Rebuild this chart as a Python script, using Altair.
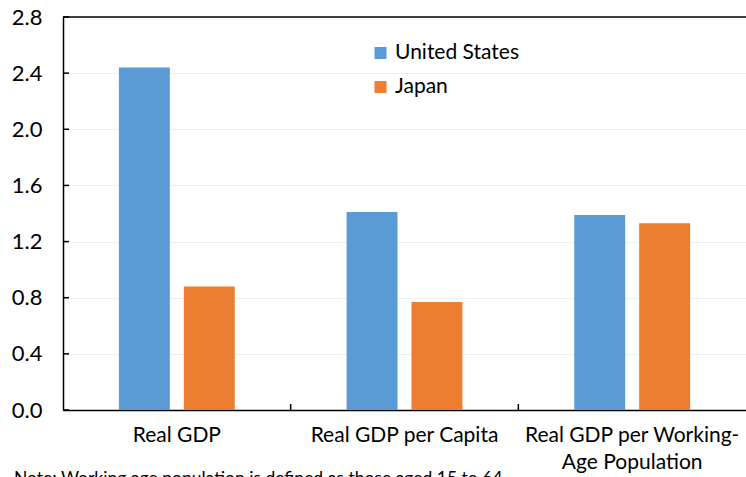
import altair as alt
import pandas as pd

categories = ["Real GDP", "Real GDP per Capita", "Real GDP per Working-Age Population"]
series = ["United States", "Japan"]
us_values = [2.44, 1.41, 1.39]
japan_values = [0.88, 0.77, 1.33]
y_ticks = [0.0, 0.4, 0.8, 1.2, 1.6, 2.0, 2.4, 2.8]
colors = ["#5B9BD5", "#ED7D31"]
note = "Note: Working age population is defined as those aged 15 to 64"

rows = []
for c, u, j in zip(categories, us_values, japan_values):
    rows.append({"category": c, "country": "United States", "value": u})
    rows.append({"category": c, "country": "Japan", "value": j})
df = pd.DataFrame(rows)

W, H = 683, 393
FONT = "Lato"
FS = 21

xscale = alt.Scale(domain=categories, paddingInner=0, paddingOuter=0)
yscale = alt.Scale(domain=[0, 2.8], nice=False)

bars = alt.Chart(df).mark_bar().encode(
    x=alt.X("category:N", scale=xscale, sort=categories,
            axis=alt.Axis(title=None, labelAngle=0, ticks=False, tickSize=0,
                          labelPadding=14, labelFontSize=FS, labelColor="black",
                          labelFont=FONT, domainColor="black", domainWidth=1.5,
                          labelLineHeight=27, labelLimit=0,
                          labelExpr="datum.label == 'Real GDP per Working-Age Population' ? ['Real GDP per Working-', 'Age Population'] : datum.label")),
    xOffset=alt.XOffset("country:N", sort=series,
                        scale=alt.Scale(paddingInner=0.2154, paddingOuter=0.8615)),
    y=alt.Y("value:Q", scale=yscale,
            axis=alt.Axis(title=None, values=y_ticks, format=".1f", ticks=False, tickSize=0,
                          labelPadding=21, labelFontSize=22, labelColor="black",
                          labelFont=FONT, domainColor="black", domainWidth=1.5,
                          grid=True, gridColor="#EEEEEE", gridWidth=1)),
    color=alt.Color("country:N", sort=series,
                    scale=alt.Scale(domain=series, range=colors),
                    legend=alt.Legend(title=None, orient="none", legendX=307, legendY=25.5,
                                      symbolType="square", symbolSize=144,
                                      symbolStrokeWidth=0, labelFontSize=FS,
                                      labelFont=FONT, labelColor="black",
                                      labelOffset=4, rowPadding=12, padding=0)),
)

ytick_df = pd.DataFrame({"v": y_ticks})
yticks = alt.Chart(ytick_df).mark_rule(color="black", strokeWidth=1.5).encode(
    y=alt.Y("v:Q", scale=yscale),
    x=alt.value(0),
    x2=alt.value(6),
)

xtick_df = pd.DataFrame({"category": categories[1:]})
xticks = alt.Chart(xtick_df).mark_rule(color="black", strokeWidth=1.5).encode(
    x=alt.X("category:N", scale=xscale, bandPosition=0),
    y=alt.value(H),
    y2=alt.value(H - 6),
)

top_line = alt.Chart(pd.DataFrame({"a": [0]})).mark_rule(color="black", strokeWidth=1.5).encode(
    x=alt.value(0), x2=alt.value(W), y=alt.value(0)
)

note_text = alt.Chart(pd.DataFrame({"t": [note]})).mark_text(
    align="left", baseline="top", fontSize=17.5, font=FONT, color="black"
).encode(
    text="t:N", x=alt.value(-49), y=alt.value(453)
)

chart = alt.layer(bars, yticks, xticks, top_line, note_text).properties(
    width=W, height=H,
    autosize=alt.AutoSizeParams(type="none"),
    padding={"left": 63, "top": 17, "right": 0, "bottom": 67},
).configure_view(stroke=None).configure(background="white")

chart.save("out.html", embed_options={"renderer": "svg", "actions": False})
